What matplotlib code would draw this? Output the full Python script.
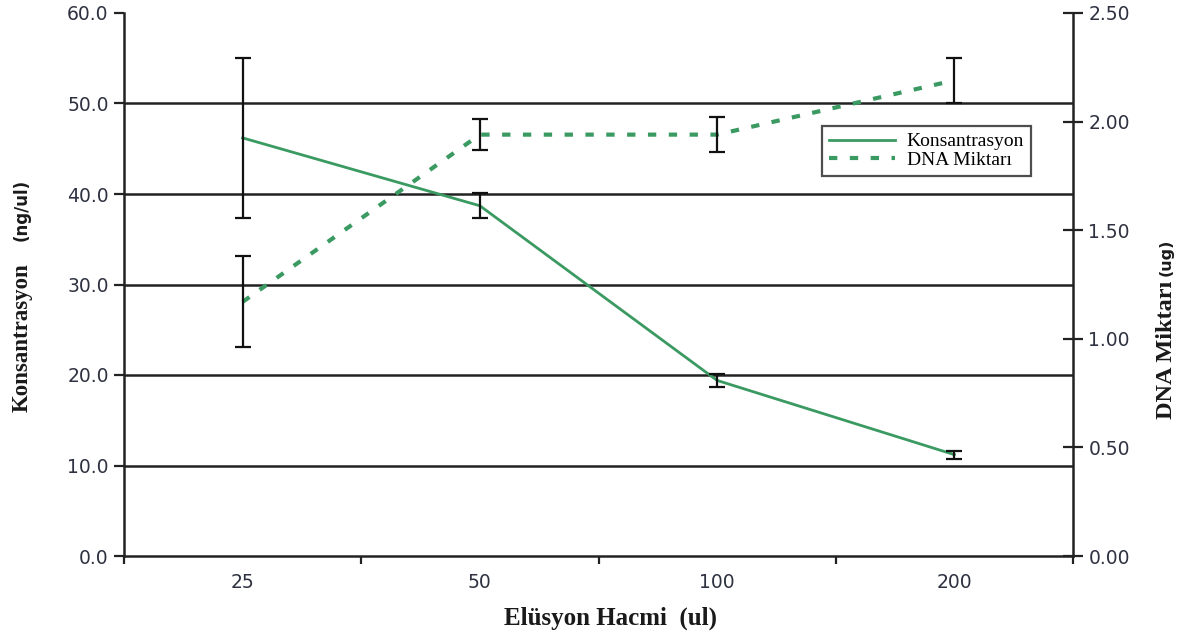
import matplotlib
matplotlib.use("Agg")
import matplotlib.pyplot as plt
import numpy as np

categories = ["25", "50", "100", "200"]
konsantrasyon = [46.2, 38.7, 19.4, 11.2]
konsantrasyon_err = [8.8, 1.4, 0.7, 0.45]
dna = [1.17, 1.94, 1.94, 2.19]
dna_err = [0.21, 0.07, 0.08, 0.105]
left_ticks = [0, 10, 20, 30, 40, 50, 60]
right_ticks = [0.0, 0.5, 1.0, 1.5, 2.0, 2.5]

W, H = 1191, 637
fig = plt.figure(figsize=(W / 100, H / 100), dpi=100)
ax = fig.add_axes([124 / W, 1 - 556 / H, (1073 - 124) / W, (556 - 13) / H])
ax2 = ax.twinx()

green = "#3a9a62"
tick_color = "#2e3140"
x = np.arange(len(categories))

ax.set_ylim(0, 60)
ax.set_xlim(-0.5, len(categories) - 0.5)
ax2.set_ylim(0, 2.5)

for v in left_ticks[1:-1]:
    ax.axhline(v, color="#222222", lw=1.8, zorder=1)

l1, = ax.plot(x, konsantrasyon, color=green, lw=2.0, zorder=3, label="Konsantrasyon")
ax.errorbar(x, konsantrasyon, yerr=konsantrasyon_err, fmt="none", ecolor="#111111",
            elinewidth=1.6, capsize=6, capthick=1.6, zorder=4)

l2, = ax2.plot(x, dna, color=green, lw=3.0, dashes=(2.0, 3.0), zorder=3, label="DNA Miktarı")
ax2.errorbar(x, dna, yerr=dna_err, fmt="none", ecolor="#111111",
             elinewidth=1.6, capsize=6, capthick=1.6, zorder=4)

# spines
for a in (ax, ax2):
    a.spines["top"].set_visible(False)
    for s in ("left", "right", "bottom"):
        a.spines[s].set_color("#222222")
        a.spines[s].set_linewidth(1.8)
ax.spines["right"].set_visible(False)
ax2.spines["left"].set_visible(False)
ax2.spines["bottom"].set_visible(False)

ax.set_yticks(left_ticks)
ax.set_yticklabels([f"{v:.1f}" for v in left_ticks])
ax2.set_yticks(right_ticks)
ax2.set_yticklabels([f"{v:.2f}" for v in right_ticks])

ax.set_xticks(x)
ax.set_xticklabels(categories)
ax.set_xticks(np.arange(-0.5, len(categories), 1.0), minor=True)
ax.tick_params(axis="x", which="major", length=0, pad=12, labelsize=13.5, labelcolor=tick_color)
ax.tick_params(axis="x", which="minor", length=6, width=1.6, color="#222222", direction="out")
ax.tick_params(axis="y", length=7, width=1.6, color="#222222", direction="out",
               labelsize=13.5, labelcolor=tick_color, pad=4)
ax2.tick_params(axis="y", length=14, width=1.6, color="#222222", direction="inout",
                labelsize=13.5, labelcolor=tick_color, pad=4)
for lab in ax.get_xticklabels() + ax.get_yticklabels() + ax2.get_yticklabels():
    lab.set_family("DejaVu Sans")

# axis titles
fig.text(610 / W, 1 - 618 / H, "Elüsyon Hacmi  (ul)", ha="center", va="center",
         family="Liberation Serif", fontweight="bold", fontsize=18, color="#1a1a1a")
fig.text(22 / W, 1 - 338 / H, "Konsantrasyon", rotation=90, ha="center", va="center",
         family="Liberation Serif", fontweight="bold", fontsize=16.5, color="#1a1a1a")
fig.text(22 / W, 1 - 210 / H, "(ng/ul)", rotation=90, ha="center", va="center",
         family="DejaVu Sans", fontweight="bold", fontsize=12, color="#1a1a1a")
fig.text(1166 / W, 1 - 350 / H, "DNA Miktarı", rotation=90, ha="center", va="center",
         family="Liberation Serif", fontweight="bold", fontsize=17.5, color="#1a1a1a")
fig.text(1166 / W, 1 - 257 / H, "(ug)", rotation=90, ha="center", va="center",
         family="DejaVu Sans", fontweight="bold", fontsize=11.5, color="#1a1a1a")

leg = fig.legend([l1, l2], ["Konsantrasyon", "DNA Miktarı"], loc="upper left",
                 bbox_to_anchor=(822 / W, 1 - 126 / H), frameon=True, fancybox=False,
                 prop={"family": "Liberation Serif", "size": 14}, handlelength=3.4,
                 borderpad=0.35, labelspacing=0.05, handletextpad=0.6, borderaxespad=0)
leg.get_frame().set_edgecolor("#222222")
leg.get_frame().set_linewidth(1.6)

fig.savefig("out.png", dpi=100)
